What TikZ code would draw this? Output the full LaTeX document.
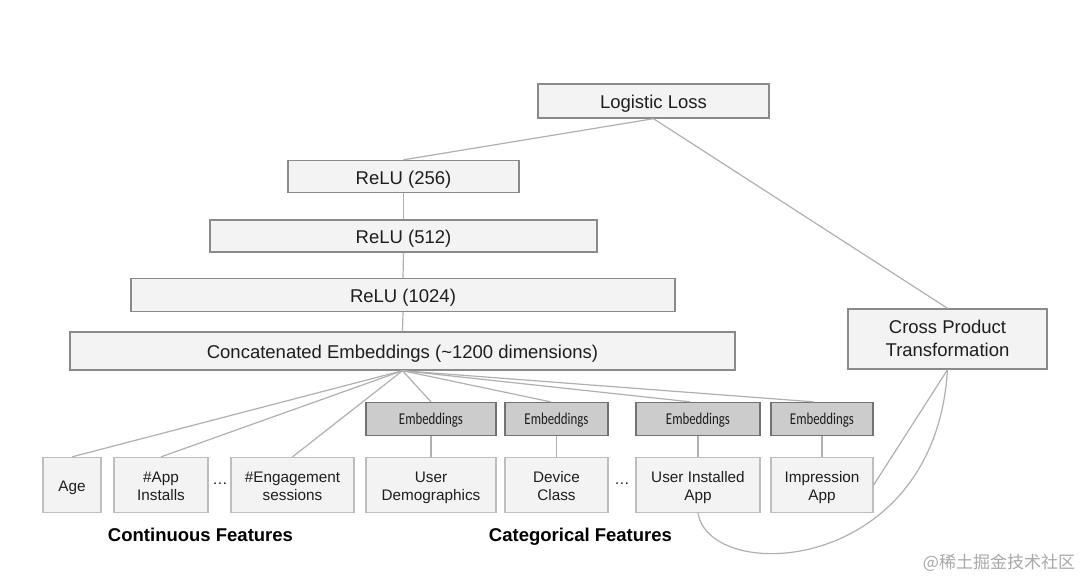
\documentclass[tikz,border=0pt]{standalone}
\usepackage{fontspec}
\setmainfont{Liberation Sans}
\newfontfamily\embfont{Carlito}
\newfontfamily\cjkfont{Noto Sans CJK SC}
\definecolor{boxfill}{HTML}{F3F3F3}
\definecolor{boxborder}{HTML}{8A8A8A}
\definecolor{lowborder}{HTML}{BDBDBD}
\definecolor{embfill}{HTML}{CCCCCC}
\definecolor{embborder}{HTML}{727272}
\definecolor{lineclr}{HTML}{B0B0B0}
\definecolor{txt}{HTML}{1E1E1E}
\definecolor{wmark}{HTML}{A8A8A8}
\newcommand\tx[2][3pt]{\raisebox{-#1}[\height][\depth]{\begin{tabular}{@{}c@{}}#2\end{tabular}}}
\newcommand\embtxt{\raisebox{-1.5pt}[\height][\depth]{\scalebox{0.78}[1]{Embeddings}}}
\begin{document}
\begin{tikzpicture}[x=1pt,y=-1pt,
  upbox/.style={draw=boxborder, fill=boxfill, line width=1.4pt, inner sep=0pt,
    text=txt, font=\fontsize{18.5}{23}\selectfont},
  lowbox/.style={draw=lowborder, fill=boxfill, line width=1.3pt, inner sep=0pt,
    text=txt, font=\fontsize{15.3}{17.5}\selectfont,
    minimum height=55pt},
  embbox/.style={draw=embborder, fill=embfill, line width=1.4pt, inner sep=0pt,
    text=txt, font=\embfont\fontsize{16.5}{18}\selectfont,
    minimum height=33pt},
  conn/.style={draw=lineclr, line width=1.2pt},
  dots/.style={text=txt, font=\fontsize{15.3}{18}\selectfont, inner sep=0pt},
  grouplabel/.style={text=black, font=\bfseries\fontsize{18.5}{22}\selectfont, inner sep=0pt, anchor=base}
]
\useasboundingbox[fill=white] (0,0) rectangle (1080,579);

% upper stack
\node[upbox, minimum width=231pt, minimum height=34pt] (loss) at (653.5,101) {\tx[2.5pt]{Logistic Loss}};
\node[upbox, minimum width=231pt, minimum height=32pt] (r256) at (403.5,176.5) {\tx{ReLU (256)}};
\node[upbox, minimum width=387pt, minimum height=32pt] (r512) at (403.5,236) {\tx{ReLU (512)}};
\node[upbox, minimum width=544pt, minimum height=33pt] (r1024) at (403,295) {\tx{ReLU (1024)}};
\node[upbox, minimum width=665pt, minimum height=38pt] (concat) at (402.5,351) {\tx{Concatenated Embeddings (\textasciitilde1200 dimensions)}};
\node[upbox, minimum width=199pt, minimum height=60pt] (cross) at (947.5,339) {\tx[1.5pt]{Cross Product\\Transformation}};

% embeddings
\node[embbox, minimum width=130pt] (e1) at (431,419) {\embtxt};
\node[embbox, minimum width=103pt] (e2) at (556.5,419) {\embtxt};
\node[embbox, minimum width=124pt] (e3) at (698,419) {\embtxt};
\node[embbox, minimum width=102pt] (e4) at (822,419) {\embtxt};

% bottom features
\node[lowbox, minimum width=58pt] (age) at (72,485) {\tx{Age}};
\node[lowbox, minimum width=94pt] (app) at (161,485) {\tx{\#App\\Installs}};
\node[lowbox, minimum width=123pt] (eng) at (292.5,485) {\tx{\#Engagement\\sessions}};
\node[lowbox, minimum width=130pt] (demo) at (431,485) {\tx{User\\Demographics}};
\node[lowbox, minimum width=103pt] (dev) at (556.5,485) {\tx{Device\\Class}};
\node[lowbox, minimum width=124pt] (uia) at (698,485) {\tx{User Installed\\App}};
\node[lowbox, minimum width=102pt] (imp) at (822,485) {\tx{Impression\\App}};

\node[dots] (d1) at (220,484) {\dots};
\node[dots] (d2) at (622,484) {\dots};

\node[grouplabel] (contl) at (200.5,541) {Continuous Features};
\node[grouplabel] (catl) at (580.5,541) {Categorical Features};

\node[text=wmark, inner sep=0pt, font=\cjkfont\fontsize{17}{20}\selectfont] (wm) at (999,563) {@稀土掘金技术社区};

% connectors
\draw[conn] (loss.south) -- (r256.north);
\draw[conn] (loss.south) -- (cross.north);
\draw[conn] (r256.south) -- (r512.north);
\draw[conn] (r512.south) -- (r1024.north);
\draw[conn] (r1024.south) -- (concat.north);
\foreach \t in {age,app,eng,e1}
  \draw[conn] (concat.south) -- (\t.north);
\draw[conn] (concat.south) -- ([xshift=-6pt]e2.north);
\draw[conn] (concat.south) -- ([xshift=-8pt]e3.north);
\draw[conn] (concat.south) -- ([xshift=-9pt]e4.north);
\draw[conn] (e1.south) -- (demo.north);
\draw[conn] (e2.south) -- (dev.north);
\draw[conn] (e3.south) -- (uia.north);
\draw[conn] (e4.south) -- (imp.north);
\draw[conn] (cross.south) -- (imp.east);
\draw[conn] (uia.south) .. controls (710,585) and (935,575) .. (cross.south);
\end{tikzpicture}
\end{document}
